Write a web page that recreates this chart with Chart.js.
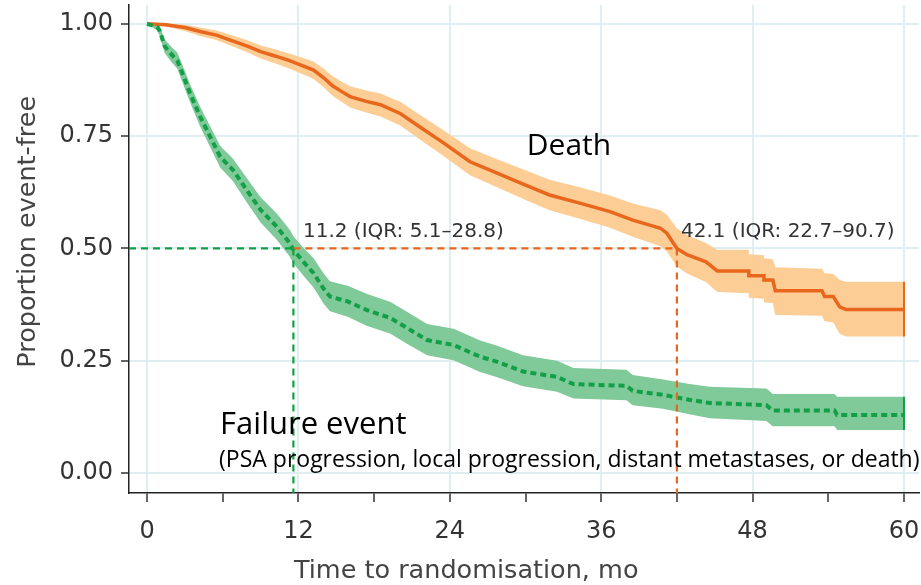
<!DOCTYPE html>
<html>
<head>
<meta charset="utf-8">
<script src="https://cdn.jsdelivr.net/npm/chart.js@4.4.0/dist/chart.umd.min.js"></script>
<style>
  html, body { margin: 0; padding: 0; background: #fff; }
  #wrap { width: 921px; height: 585px; }
</style>
</head>
<body>
<div id="wrap"><canvas id="km" width="921" height="585"></canvas></div>
<script>
// Kaplan-Meier: death (orange) and failure event (green), months
const deathTime  = [0,1.5,3,4.2,5.5,6.6,8,9,10.2,11.3, 12.5,13.2,14,14.7,15.5,16.1,17.3,18.5,20.1,21.6, 23.5,25.6,27.7,30.1,31.9,34.3,36.7,38.5,40.7,41.2, 42.0,42.8,44.3,45.2,47.7,47.7,48.9,48.9,49.6,49.8, 53.5,53.7,54.4,54.9,55.4,60];
const deathSurv  = [1.000,0.998,0.992,0.983,0.975,0.964,0.950,0.938,0.928,0.918, 0.905,0.897,0.880,0.862,0.848,0.838,0.828,0.820,0.800,0.771, 0.735,0.693,0.668,0.640,0.619,0.601,0.582,0.563,0.545,0.534, 0.500,0.486,0.470,0.450,0.450,0.439,0.439,0.430,0.430,0.406, 0.406,0.393,0.393,0.370,0.364,0.364];
const deathUpper = [1.000,1.000,0.998,0.992,0.985,0.976,0.963,0.952,0.943,0.934, 0.923,0.916,0.900,0.884,0.870,0.861,0.852,0.845,0.826,0.798, 0.763,0.723,0.699,0.673,0.653,0.636,0.618,0.600,0.585,0.575, 0.545,0.530,0.512,0.497,0.497,0.487,0.485,0.478,0.476,0.458, 0.455,0.445,0.443,0.430,0.426,0.426];
const deathLower = [1.000,0.994,0.984,0.973,0.964,0.952,0.936,0.923,0.912,0.900, 0.886,0.877,0.859,0.840,0.825,0.814,0.803,0.794,0.773,0.743, 0.706,0.663,0.637,0.607,0.585,0.566,0.546,0.526,0.505,0.494, 0.460,0.444,0.425,0.403,0.400,0.390,0.388,0.380,0.378,0.352, 0.350,0.338,0.335,0.310,0.304,0.304];

const failTime  = [0,0.8,1.0,1.4,2.0,2.4,2.9,3.4,4.2,5.0, 5.8,6.8,7.9,9.0,10.3,11.3,11.6,12.4,13.2,14.0, 14.5,15.9,17.4,19.3,20.6,22.2,24.3,26.4,27.7,29.8, 32.5,33.8,38.0,38.5,40.9,43.0,44.6,49.1,49.6,54.5, 54.7,60];
const failSurv  = [1.000,0.993,0.985,0.950,0.930,0.918,0.883,0.846,0.794,0.749, 0.704,0.675,0.630,0.586,0.548,0.512,0.497,0.470,0.445,0.410, 0.393,0.382,0.363,0.345,0.323,0.296,0.285,0.259,0.248,0.226, 0.214,0.198,0.194,0.183,0.174,0.163,0.156,0.151,0.139,0.139, 0.129,0.129];
const failUpper = [1.000,1.000,0.995,0.965,0.947,0.936,0.902,0.866,0.816,0.772, 0.728,0.700,0.657,0.614,0.577,0.542,0.527,0.501,0.478,0.444, 0.427,0.417,0.399,0.381,0.359,0.332,0.321,0.295,0.284,0.262, 0.250,0.234,0.230,0.218,0.208,0.198,0.192,0.188,0.176,0.176, 0.170,0.170];
const failLower = [1.000,0.985,0.974,0.935,0.913,0.900,0.863,0.826,0.772,0.726, 0.680,0.650,0.603,0.558,0.519,0.482,0.467,0.439,0.413,0.377, 0.360,0.348,0.328,0.310,0.288,0.262,0.251,0.225,0.214,0.193, 0.181,0.166,0.162,0.151,0.143,0.131,0.122,0.116,0.104,0.104, 0.096,0.096];

// medians (where the dashed guides drop)
const medianLevel = 0.5;
const medianFail = 11.6;
const medianDeath = 42.0;
const medianFailText = "11.2 (IQR: 5.1\u201328.8)";
const medianDeathText = "42.1 (IQR: 22.7\u201390.7)";

const xTicks = [0, 6, 12, 18, 24, 30, 36, 42, 48, 54, 60];
const xLabelTicks = [0, 12, 24, 36, 48, 60];
const yTicks = [0, 0.25, 0.5, 0.75, 1];

const xMin = -1.43, xMax = 61.19;
const yMin = -0.0445, yMax = 1.042;

const ORANGE = "#e8671c", ORANGE_BAND = "#fdcd96";
const GREEN = "#11a047", GREEN_BAND = "#80c999";

function pts(t, v) {
    return t.map(function(x, i) { return { x: x, y: v[i] }; });
}

const last = function(a) { return a[a.length - 1]; };

// texts placed in data units
const notes = [
    { text: "Death", x: 30.1, y: 0.708, font: "30px 'Open Sans'", color: "#000" },
    { text: "Failure event", x: 5.79, y: 0.087, font: "31px 'Open Sans'", color: "#000" },
    { text: "(PSA progression, local progression, distant metastases, or death)", x: 5.71, y: 0.013, font: "23px 'Open Sans'", color: "#000" },
    { text: medianFailText, x: 12.36, y: 0.526, font: "20px 'DejaVu Sans'", color: "#333" },
    { text: medianDeathText, x: 42.32, y: 0.526, font: "20px 'DejaVu Sans'", color: "#333" }
];

const extras = {
    id: "extras",
    beforeDraw: function(chart) {
        const c = chart.ctx;
        c.save();
        c.fillStyle = "#fff";
        c.fillRect(0, 0, chart.width, chart.height);
        c.restore();
    },
    afterDraw: function(chart) {
        const c = chart.ctx;
        const xs = chart.scales.x, ys = chart.scales.y;
        c.save();
        c.textBaseline = "alphabetic";
        c.textAlign = "left";
        notes.forEach(function(n) {
            c.font = n.font;
            c.fillStyle = n.color;
            c.fillText(n.text, xs.getPixelForValue(n.x), ys.getPixelForValue(n.y));
        });
        // axis titles
        c.fillStyle = "#444";
        c.font = "25.5px 'DejaVu Sans'";
        c.textAlign = "center";
        c.fillText("Time to randomisation, mo", xs.getPixelForValue(25.3), 578);
        c.translate(35, ys.getPixelForValue(0.537));
        c.rotate(-Math.PI / 2);
        c.fillText("Proportion event-free", 0, 0);
        c.restore();
    }
};

const dashed = [7, 5];

new Chart(document.getElementById("km").getContext("2d"), {
    type: "line",
    data: {
        datasets: [
            // bands
            { data: pts(deathTime, deathUpper), borderWidth: 0, backgroundColor: ORANGE_BAND, fill: "+1", pointRadius: 0, order: 20 },
            { data: pts(deathTime, deathLower), borderWidth: 0, backgroundColor: ORANGE_BAND, fill: false, pointRadius: 0, order: 21 },
            { data: pts(failTime, failUpper), borderWidth: 0, backgroundColor: GREEN_BAND, fill: "+1", pointRadius: 0, order: 22 },
            { data: pts(failTime, failLower), borderWidth: 0, backgroundColor: GREEN_BAND, fill: false, pointRadius: 0, order: 23 },
            // band end caps
            { data: [{ x: last(deathTime), y: last(deathUpper) }, { x: last(deathTime), y: last(deathLower) }], borderColor: ORANGE, borderWidth: 2, pointRadius: 0, order: 9 },
            { data: [{ x: last(failTime), y: last(failUpper) }, { x: last(failTime), y: last(failLower) }], borderColor: GREEN, borderWidth: 2, pointRadius: 0, order: 9 },
            // curves
            { data: pts(deathTime, deathSurv), borderColor: ORANGE, borderWidth: 3.5, pointRadius: 0, fill: false, order: 5 },
            { data: pts(failTime, failSurv), borderColor: GREEN, borderWidth: 4, borderDash: [6, 4], pointRadius: 0, fill: false, order: 4 },
            // median guides
            { data: [{ x: xMin, y: medianLevel }, { x: medianFail, y: medianLevel }], borderColor: GREEN, borderWidth: 2.2, borderDash: dashed, pointRadius: 0, order: 1 },
            { data: [{ x: medianFail, y: medianLevel }, { x: medianFail, y: yMin }], borderColor: GREEN, borderWidth: 2.2, borderDash: dashed, pointRadius: 0, order: 1 },
            { data: [{ x: medianFail, y: medianLevel }, { x: medianDeath, y: medianLevel }], borderColor: ORANGE, borderWidth: 2.2, borderDash: dashed, pointRadius: 0, order: 1 },
            { data: [{ x: medianDeath, y: medianLevel }, { x: medianDeath, y: yMin }], borderColor: ORANGE, borderWidth: 2.2, borderDash: dashed, pointRadius: 0, order: 1 }
        ]
    },
    options: {
        responsive: false,
        animation: false,
        layout: { padding: { top: 5, right: 2, left: 0, bottom: 0 } },
        plugins: { legend: { display: false }, tooltip: { enabled: false } },
        elements: { line: { tension: 0 } },
        scales: {
            x: {
                type: "linear",
                min: xMin,
                max: xMax,
                afterBuildTicks: function(s) { s.ticks = xTicks.map(function(v) { return { value: v }; }); },
                afterFit: function(s) { s.height = 92; s.paddingLeft = 0; s.paddingRight = 0; },
                ticks: {
                    autoSkip: false,
                    maxRotation: 0,
                    padding: 15,
                    color: "#333",
                    font: { family: "DejaVu Sans", size: 24 },
                    callback: function(v) { return xLabelTicks.indexOf(v) >= 0 ? String(v) : ""; }
                },
                grid: {
                    color: function(ctx) { return ctx.tick && xLabelTicks.indexOf(ctx.tick.value) >= 0 ? "#dfeef1" : "rgba(0,0,0,0)"; },
                    lineWidth: 2,
                    tickColor: "#333",
                    tickWidth: 1.5,
                    tickLength: 9
                },
                border: { display: true, color: "#222", width: 1.5 }
            },
            y: {
                type: "linear",
                min: yMin,
                max: yMax,
                afterBuildTicks: function(s) { s.ticks = yTicks.map(function(v) { return { value: v }; }); },
                afterFit: function(s) { s.width = 129; s.paddingTop = 0; s.paddingBottom = 0; },
                ticks: {
                    autoSkip: false,
                    padding: 8,
                    color: "#333",
                    font: { family: "DejaVu Sans", size: 24 },
                    callback: function(v) { return Number(v).toFixed(2); }
                },
                grid: {
                    color: "#dfeef1",
                    lineWidth: 2,
                    tickColor: "#333",
                    tickWidth: 1.5,
                    tickLength: 8
                },
                border: { display: true, color: "#222", width: 1.5 }
            }
        }
    },
    plugins: [extras]
});
</script>
</body>
</html>
